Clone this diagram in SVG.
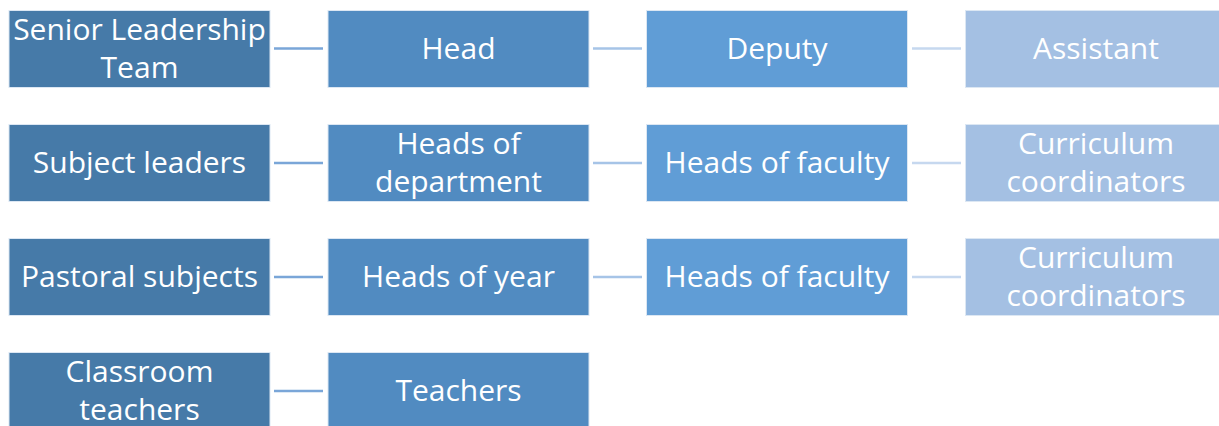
<svg xmlns="http://www.w3.org/2000/svg" width="1219" height="426" viewBox="0 0 1219 426">
<style>
.box{stroke:#dce7f3;stroke-width:1}
.c1{fill:#467aa8}.c2{fill:#518bc1}.c3{fill:#609dd6}.c4{fill:#a4c0e3}
.t{font-family:"Open Sans",Lato,sans-serif;font-size:30px;fill:#ffffff;text-anchor:middle}
.l1{stroke:#7aa6d8;stroke-width:2.5}.l2{stroke:#a6c4e7;stroke-width:2.5}.l3{stroke:#c6d8ef;stroke-width:2.5}
</style>
<rect width="1219" height="426" fill="#ffffff"/>
<g id="connectors">
<line class="l1" x1="274" y1="48.5" x2="323" y2="48.5"/>
<line class="l2" x1="593" y1="48.5" x2="642" y2="48.5"/>
<line class="l3" x1="912" y1="48.5" x2="961" y2="48.5"/>
<line class="l1" x1="274" y1="163" x2="323" y2="163"/>
<line class="l2" x1="593" y1="163" x2="642" y2="163"/>
<line class="l3" x1="912" y1="163" x2="961" y2="163"/>
<line class="l1" x1="274" y1="277" x2="323" y2="277"/>
<line class="l2" x1="593" y1="277" x2="642" y2="277"/>
<line class="l3" x1="912" y1="277" x2="961" y2="277"/>
<line class="l1" x1="274" y1="391" x2="323" y2="391"/>
</g>
<g id="n-slt"><rect class="box c1" x="9" y="10.5" width="261" height="77"/><text class="t" x="139.5" y="39.5">Senior Leadership</text><text class="t" x="139.5" y="77.5">Team</text></g>
<g id="n-head"><rect class="box c2" x="328" y="10.5" width="261" height="77"/><text class="t" x="458.5" y="58.5">Head</text></g>
<g id="n-deputy"><rect class="box c3" x="646.5" y="10.5" width="261" height="77"/><text class="t" x="777" y="58.5">Deputy</text></g>
<g id="n-assistant"><rect class="box c4" x="965.5" y="10.5" width="254" height="77"/><text class="t" x="1096" y="58.5">Assistant</text></g>

<g id="n-subject"><rect class="box c1" x="9" y="124.5" width="261" height="77"/><text class="t" x="139.5" y="172.5">Subject leaders</text></g>
<g id="n-hod"><rect class="box c2" x="328" y="124.5" width="261" height="77"/><text class="t" x="458.5" y="153.5">Heads of</text><text class="t" x="458.5" y="191.5">department</text></g>
<g id="n-hof1"><rect class="box c3" x="646.5" y="124.5" width="261" height="77"/><text class="t" x="777" y="172.5">Heads of faculty</text></g>
<g id="n-cc1"><rect class="box c4" x="965.5" y="124.5" width="254" height="77"/><text class="t" x="1096" y="153.5">Curriculum</text><text class="t" x="1096" y="191.5">coordinators</text></g>

<g id="n-pastoral"><rect class="box c1" x="9" y="238.5" width="261" height="77"/><text class="t" x="139.5" y="286.5">Pastoral subjects</text></g>
<g id="n-hoy"><rect class="box c2" x="328" y="238.5" width="261" height="77"/><text class="t" x="458.5" y="286.5">Heads of year</text></g>
<g id="n-hof2"><rect class="box c3" x="646.5" y="238.5" width="261" height="77"/><text class="t" x="777" y="286.5">Heads of faculty</text></g>
<g id="n-cc2"><rect class="box c4" x="965.5" y="238.5" width="254" height="77"/><text class="t" x="1096" y="267.5">Curriculum</text><text class="t" x="1096" y="305.5">coordinators</text></g>

<g id="n-classroom"><rect class="box c1" x="9" y="352.5" width="261" height="77"/><text class="t" x="139.5" y="381.5">Classroom</text><text class="t" x="139.5" y="419.5">teachers</text></g>
<g id="n-teachers"><rect class="box c2" x="328" y="352.5" width="261" height="77"/><text class="t" x="458.5" y="400.5">Teachers</text></g>
</svg>
